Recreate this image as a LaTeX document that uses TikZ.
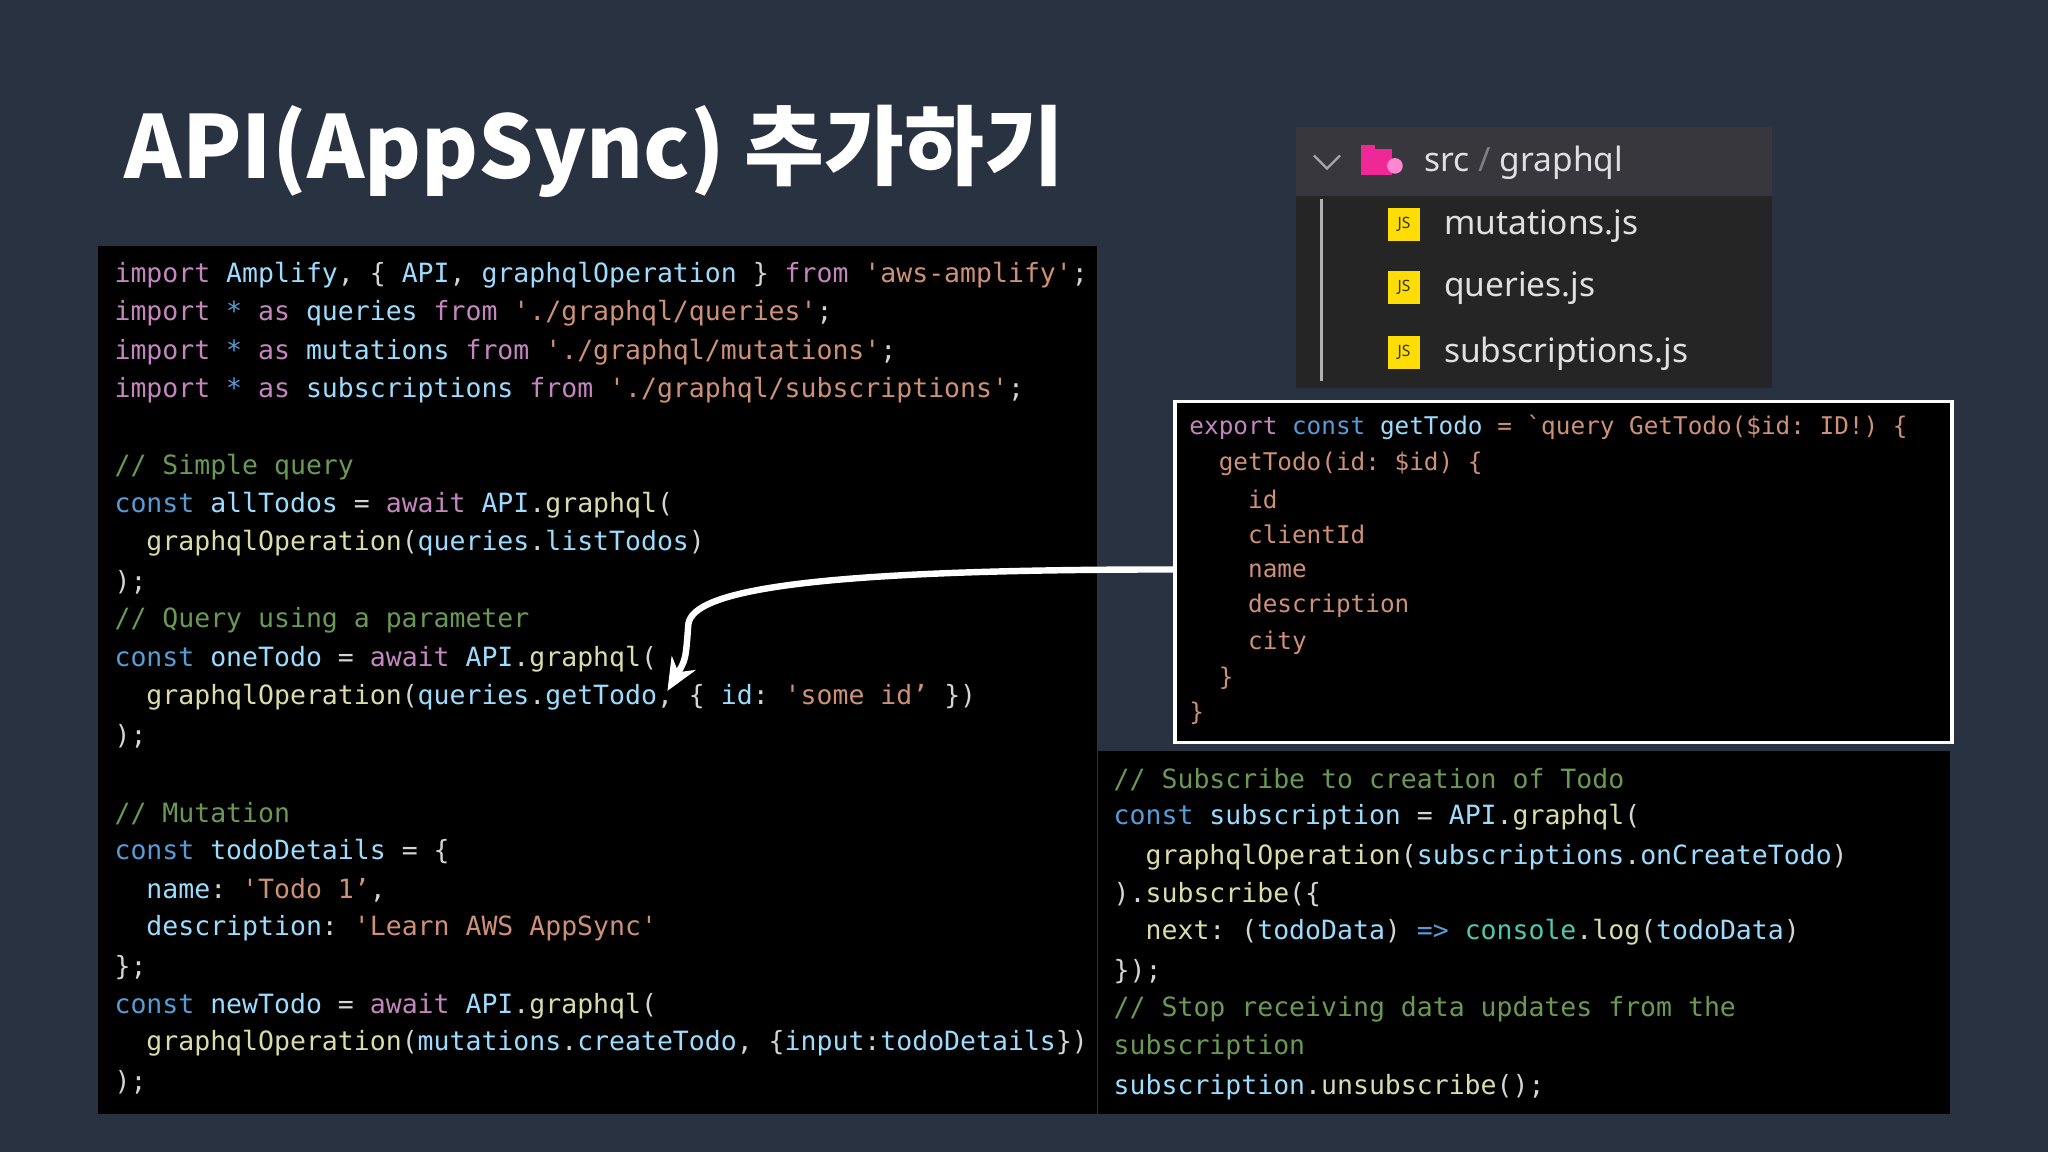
\documentclass[tikz,border=0pt]{standalone}
\usepackage{fontspec}
\setmainfont{Noto Sans}
\setmonofont{DejaVu Sans Mono}
\newfontfamily\titlefont{Noto Sans CJK KR}
\usetikzlibrary{arrows.meta}
\definecolor{bgc}{HTML}{283240}
\definecolor{ckw}{HTML}{C586C0}
\definecolor{cbl}{HTML}{569CD6}
\definecolor{cid}{HTML}{9CDCFE}
\definecolor{cst}{HTML}{CE9178}
\definecolor{ccm}{HTML}{6A9955}
\definecolor{cfn}{HTML}{DCDCAA}
\definecolor{cpu}{HTML}{D4D4D4}
\definecolor{cty}{HTML}{4EC9B0}
\definecolor{treebg}{HTML}{252526}
\definecolor{treehd}{HTML}{37373D}
\newcommand\K[1]{\textcolor{ckw}{#1}}
\newcommand\B[1]{\textcolor{cbl}{#1}}
\newcommand\I[1]{\textcolor{cid}{#1}}
\newcommand\St[1]{\textcolor{cst}{#1}}
\newcommand\Cm[1]{\textcolor{ccm}{#1}}
\newcommand\F[1]{\textcolor{cfn}{#1}}
\newcommand\Ty[1]{\textcolor{cty}{#1}}
\tikzset{
 codeline/.style={anchor=west,inner sep=0pt,text=cpu,font=\ttfamily\fontsize{5.77}{6}\selectfont},
 smallcode/.style={anchor=west,inner sep=0pt,text=cst,font=\ttfamily\fontsize{5.3}{6}\selectfont},
 fname/.style={anchor=west,inner sep=0pt,text=white!88!black,font=\bfseries\fontsize{7.3}{8}\selectfont},
 jsicon/.style={fill=yellow!80!orange,minimum size=0.25cm,inner sep=0pt,text=black!80,font=\bfseries\fontsize{3.4}{4}\selectfont,anchor=center}
}
\begin{document}
\begin{tikzpicture}[x=0.01cm,y=-0.01cm]
\fill[bgc] (0,0) rectangle (1568,882);
\useasboundingbox (0,0) rectangle (1568,882);
\node[anchor=west,inner sep=0pt,text=white,font=\titlefont\bfseries\fontsize{18.9}{20}\selectfont] (title) at (95,116) {API(AppSync) 추가하기};
% left code
\fill[black] (75,188) rectangle (840,853);
\begin{scope}[yshift=-0.02cm]
\node[codeline] (l1) at (87,209) {\K{import} \I{Amplify}, \{ \I{API}, \I{graphqlOperation} \} \K{from} \St{'aws-amplify'};};
\node[codeline] (l2) at (87,238) {\K{import} \B{*} \K{as} \I{queries} \K{from} \St{'./graphql/queries'};};
\node[codeline] (l3) at (87,268) {\K{import} \B{*} \K{as} \I{mutations} \K{from} \St{'./graphql/mutations'};};
\node[codeline] (l4) at (87,297) {\K{import} \B{*} \K{as} \I{subscriptions} \K{from} \St{'./graphql/subscriptions'};};
\node[codeline] (l5) at (87,356) {\Cm{// Simple query}};
\node[codeline] (l6) at (87,385) {\B{const} \I{allTodos} = \K{await} \I{API}.\F{graphql}(};
\node[codeline] (l7) at (87,414) {\ \ \F{graphqlOperation}(\I{queries}.\I{listTodos})};
\node[codeline] (l8) at (87,444) {);};
\node[codeline] (l9) at (87,473) {\Cm{// Query using a parameter}};
\node[codeline] (l10) at (87,503) {\B{const} \I{oneTodo} = \K{await} \I{API}.\F{graphql}(};
\node[codeline] (l11) at (87,532) {\ \ \F{graphqlOperation}(\I{queries}.\I{getTodo}, \{ \I{id}: \St{'some id’} \})};
\node[codeline] (l12) at (87,562) {);};
\node[codeline] (l13) at (87,621) {\Cm{// Mutation}};
\node[codeline] (l14) at (87,650) {\B{const} \I{todoDetails} = \{};
\node[codeline] (l15) at (87,680) {\ \ \I{name}: \St{'Todo 1’},};
\node[codeline] (l16) at (87,709) {\ \ \I{description}: \St{'Learn AWS AppSync'}};
\node[codeline] (l17) at (87,739) {\};};
\node[codeline] (l18) at (87,768) {\B{const} \I{newTodo} = \K{await} \I{API}.\F{graphql}(};
\node[codeline] (l19) at (87,797) {\ \ \F{graphqlOperation}(\I{mutations}.\I{createTodo}, \{\I{input}:\I{todoDetails}\})};
\node[codeline] (l20) at (87,827) {);};
\end{scope}
% file tree
\fill[treebg] (992,97) rectangle (1357,297);
\fill[treehd] (992,97) rectangle (1357,150);
\draw[gray!70,line width=0.5pt] (1006,119) -- (1016,129) -- (1026,119);
\fill[magenta!80!pink] (1042,114) rectangle (1066,134);
\fill[magenta!80!pink] (1042,111) rectangle (1053,116);
\fill[pink!70!magenta] (1068,127) circle (6);
\node[fname] (src) at (1090,125) {src \textcolor{gray}{/} graphql};
\draw[gray!60,line width=0.6pt] (1012,152) -- (1012,292);
\node[jsicon] (j1) at (1075,172) {JS};
\node[jsicon] (j2) at (1075,220) {JS};
\node[jsicon] (j3) at (1075,270) {JS};
\node[fname] (f1) at (1105,173) {mutations.js};
\node[fname] (f2) at (1105,221) {queries.js};
\node[fname] (f3) at (1105,271) {subscriptions.js};
% top-right code box
\node[draw=white,fill=black,line width=0.8pt,minimum width=5.95cm,minimum height=2.61cm,anchor=north west,inner sep=0pt] (tb) at (898,306) {};
\begin{scope}[yshift=-0.02cm]
\node[smallcode] (t1) at (910,325) {\K{export} \B{const} \I{getTodo} = `query GetTodo(\$id: ID!) \{};
\node[smallcode] (t2) at (910,353) {\ \ getTodo(id: \$id) \{};
\node[smallcode] (t3) at (910,380) {\ \ \ \ id};
\node[smallcode] (t4) at (910,407) {\ \ \ \ clientId};
\node[smallcode] (t5) at (910,435) {\ \ \ \ name};
\node[smallcode] (t6) at (910,462) {\ \ \ \ description};
\node[smallcode] (t7) at (910,490) {\ \ \ \ city};
\node[smallcode] (t8) at (910,517) {\ \ \}};
\node[smallcode] (t9) at (910,544) {\}};
\end{scope}
% bottom-right code
\fill[black] (841,575) rectangle (1493,853);
\begin{scope}[yshift=-0.02cm]
\node[codeline] (r1) at (852,595) {\Cm{// Subscribe to creation of Todo}};
\node[codeline] (r2) at (852,624) {\B{const} \I{subscription} = \I{API}.\F{graphql}(};
\node[codeline] (r3) at (852,654) {\ \ \F{graphqlOperation}(\I{subscriptions}.\I{onCreateTodo})};
\node[codeline] (r4) at (852,683) {).\F{subscribe}(\{};
\node[codeline] (r5) at (852,712) {\ \ \F{next}: (\I{todoData}) \B{=>} \Ty{console}.\F{log}(\I{todoData})};
\node[codeline] (r6) at (852,742) {\});};
\node[codeline] (r7) at (852,771) {\Cm{// Stop receiving data updates from the}};
\node[codeline] (r8) at (852,800) {\Cm{subscription}};
\node[codeline] (r9) at (852,830) {\I{subscription}.\F{unsubscribe}();};
\end{scope}
% arrow
\coordinate (tip) at (511,529);
\draw[white,line width=1.4pt,-{Stealth[length=7pt,width=6pt]}] (tb.west |- 0,436) .. controls (620,436) and (530,452) .. (527,478) .. controls (525,505) .. (tip);
\end{tikzpicture}
\end{document}
